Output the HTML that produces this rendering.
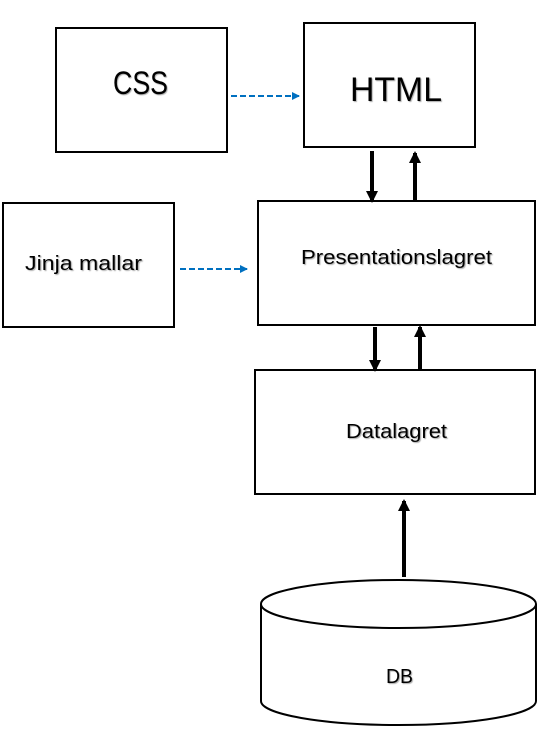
<!DOCTYPE html>
<html><head><meta charset="utf-8"><style>
body{margin:0;background:#fff;}
svg text{font-family:"Liberation Sans",sans-serif;fill:#000;}
</style></head><body>
<svg width="548" height="741" xmlns="http://www.w3.org/2000/svg">
<defs>
<marker id="ab" markerWidth="8" markerHeight="8" refX="7" refY="4" orient="auto" markerUnits="userSpaceOnUse"><path d="M0,0 L8,4 L0,8 z" fill="#0070c0"/></marker>
<marker id="ak" markerWidth="12" markerHeight="12" refX="10" refY="6" orient="auto" markerUnits="userSpaceOnUse"><path d="M0,0 L12,6 L0,12 z" fill="#000"/></marker>
</defs>
<g fill="#fff" stroke="#000" stroke-width="2">
<rect x="56" y="28" width="171" height="124"/>
<rect x="304" y="23" width="171" height="124"/>
<rect x="3" y="203" width="171" height="124"/>
<rect x="258" y="201" width="277" height="124"/>
<rect x="255" y="370" width="280" height="124"/>
<path d="M261,604 L261,701 A137.5,24 0 0 0 536,701 L536,604"/>
<ellipse cx="398.5" cy="604" rx="137.5" ry="24"/>
</g>
<g stroke="#0070c0" stroke-width="2" stroke-dasharray="6,3">
<line x1="231" y1="96" x2="299" y2="96" marker-end="url(#ab)"/>
<line x1="180" y1="269" x2="247" y2="269" marker-end="url(#ab)"/>
</g>
<g stroke="#000" stroke-width="4">
<line x1="372" y1="151" x2="372" y2="201" marker-end="url(#ak)"/>
<line x1="415" y1="200" x2="415" y2="153" marker-end="url(#ak)"/>
<line x1="375" y1="327" x2="375" y2="370" marker-end="url(#ak)"/>
<line x1="420" y1="370" x2="420" y2="327" marker-end="url(#ak)"/>
<line x1="404" y1="577" x2="404" y2="501" marker-end="url(#ak)"/>
</g>
<g style="text-shadow:1px 1px 1px #aaa">
<text x="113" y="94" font-size="32" textLength="55" lengthAdjust="spacingAndGlyphs">CSS</text>
<text x="350" y="101" font-size="34" textLength="92" lengthAdjust="spacingAndGlyphs">HTML</text>
<text x="25" y="270" font-size="20" textLength="117" lengthAdjust="spacingAndGlyphs">Jinja  mallar</text>
<text x="301" y="264" font-size="20" textLength="191" lengthAdjust="spacingAndGlyphs">Presentationslagret</text>
<text x="346" y="438" font-size="20" textLength="101" lengthAdjust="spacingAndGlyphs">Datalagret</text>
<text x="386" y="683" font-size="20" textLength="27" lengthAdjust="spacingAndGlyphs">DB</text>
</g>
</svg>
</body></html>
